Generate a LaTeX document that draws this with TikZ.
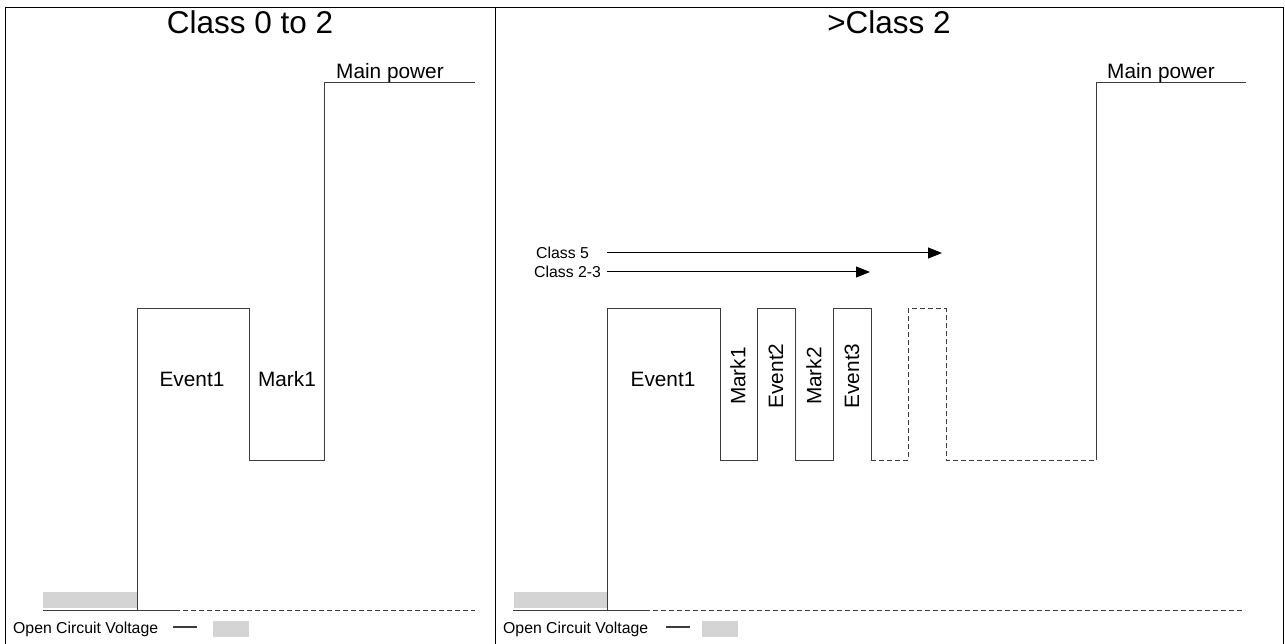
\documentclass[tikz,border=0pt]{standalone}
\usepackage{fontspec}
\setmainfont{Liberation Sans}
\usetikzlibrary{arrows.meta}
\definecolor{wave}{HTML}{3C3C3C}
\definecolor{ocv}{HTML}{D4D4D4}
\begin{document}
\begin{tikzpicture}[x=1pt,y=-1pt,
  frame/.style={draw=black,line width=1pt},
  wave/.style={draw=wave,line width=1pt},
  wdash/.style={draw=wave,line width=1pt,dash pattern=on 5pt off 3pt},
  title/.style={font=\fontsize{31.5}{33}\selectfont,inner sep=0pt},
  lbl/.style={font=\fontsize{20.8}{23}\selectfont,inner sep=0pt},
  small/.style={font=\fontsize{15.8}{18}\selectfont,inner sep=0pt},
  ocvbox/.style={fill=ocv,draw=none},
  arr/.style={draw=black,line width=1pt,-{Triangle[length=14pt,width=11pt]}}]
\useasboundingbox (0,0) rectangle (1285,644);
% frame
\draw[frame] (5,644) -- (5,8) -- (1283,8) -- (1283,644);
\draw[frame] (495,8) -- (495,644);
% titles
\node[title] (t1) at (250,22) {Class 0 to 2};
\node[title] (t2) at (889,22) {>Class 2};

% ---------- left panel ----------
\fill[ocvbox] (43,592) rectangle (137,608);
\draw[wave] (43,610) -- (175,610);
\draw[wdash] (175,610) -- (475,610);
\draw[wave] (137,610) -- (137,309) -- (249,309) -- (249,460) -- (324,460) -- (324,83) -- (475,83);
\node[lbl] (e1l) at (192,379) {Event1};
\node[lbl] (m1l) at (287,379) {Mark1};
\node[lbl,anchor=base west] (mpl) at (336,79) {Main power};
\node[small,anchor=west] (ocvl) at (13,629) {Open Circuit Voltage};
\draw[wave,line width=1.2pt] (173,627) -- (197,627);
\fill[ocvbox] (213,621) rectangle (249,637);

% ---------- right panel ----------
\fill[ocvbox] (514,592) rectangle (607,608);
\draw[wave] (513,610) -- (645,610);
\draw[wdash] (645,610) -- (1245,610);
\draw[wave] (607,610) -- (607,309) -- (720,309) -- (720,460) -- (757,460) -- (757,309)
  -- (795,309) -- (795,460) -- (833,460) -- (833,309) -- (871,309) -- (871,460);
\draw[wdash] (871,460) -- (908,460) -- (908,309) -- (946,309) -- (946,460) -- (1096,460);
\draw[wave] (1096,460) -- (1096,83) -- (1246,83);
\node[lbl] (e1r) at (663,379) {Event1};
\node[lbl,rotate=90] (m1r) at (738,376) {Mark1};
\node[lbl,rotate=90] (e2r) at (776,376) {Event2};
\node[lbl,rotate=90] (m2r) at (814,376) {Mark2};
\node[lbl,rotate=90] (e3r) at (852,376) {Event3};
\node[lbl,anchor=base west] (mpr) at (1107,79) {Main power};
\node[small,anchor=west] (c5) at (536,253) {Class 5};
\node[small,anchor=west] (c23) at (534,272) {Class 2-3};
\coordinate (a5s) at (607,253);
\coordinate (a5e) at (942,253);
\coordinate (a23s) at (607,272);
\coordinate (a23e) at (870,272);
\draw[arr] (a5s) -- (a5e);
\draw[arr] (a23s) -- (a23e);
\node[small,anchor=west] (ocvr) at (503,629) {Open Circuit Voltage};
\draw[wave,line width=1.2pt] (666,627) -- (690,627);
\fill[ocvbox] (702,621) rectangle (738,637);
\end{tikzpicture}
\end{document}
